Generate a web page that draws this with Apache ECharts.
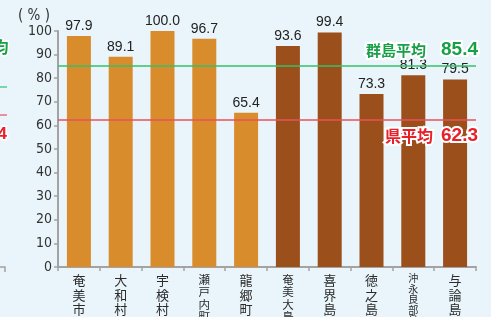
<!DOCTYPE html>
<html>
<head>
<meta charset="utf-8">
<script src="https://cdn.jsdelivr.net/npm/echarts@6/dist/echarts.min.js"></script>
<style>
  html, body { margin: 0; padding: 0; background: #e9f5fb; }
  #chart { width: 491px; height: 317px; }
</style>
</head>
<body>
<div id="chart"></div>
<script>
// 地区名（市町村 + 島ごとの合計）
const categories = ['奄美市', '大和村', '宇検村', '瀬戸内町', '龍郷町', '奄美大島', '喜界島', '徳之島', '沖永良部島', '与論島']
const values = [97.9, 89.1, 100.0, 96.7, 65.4, 93.6, 99.4, 73.3, 81.3, 79.5]
// 'town' = 奄美大島の市町村, 'island' = 島ごと
const kinds = ['town', 'town', 'town', 'town', 'town', 'island', 'island', 'island', 'island', 'island']
const yTicks = { min: 0, max: 100, interval: 10 }
const gunAvg = 85.4
const kenAvg = 62.3

const kindColor = { town: '#d98c2c', island: '#9b4f1b' }
const jp = '"Noto Sans CJK JP", sans-serif'

const chart = echarts.init(document.getElementById('chart'))

const labelRich = {
  a: { fontSize: 13, lineHeight: 14.5, color: '#2b2b2b', fontFamily: jp },
  b: { fontSize: 11.5, lineHeight: 12.5, color: '#2b2b2b', fontFamily: jp },
  c: { fontSize: 10, lineHeight: 10.5, color: '#2b2b2b', fontFamily: jp },
}

chart.setOption({
  backgroundColor: '#e9f5fb',
  animation: false,
  grid: { left: 58, right: 15, top: 31, bottom: 50, containLabel: false, outerBoundsMode: 'none' },
  xAxis: {
    type: 'category',
    data: categories,
    axisLine: { lineStyle: { color: '#a3a3a3', width: 2 } },
    axisTick: { show: true, length: 4, lineStyle: { color: '#a3a3a3', width: 1.5 } },
    axisLabel: {
      interval: 0,
      margin: 6,
      formatter: (v) => {
        const style = v.length <= 3 ? 'a' : v.length === 4 ? 'b' : 'c'
        return v.split('').map((ch) => `{${style}|${ch}}`).join('\n')
      },
      rich: labelRich,
    },
  },
  yAxis: {
    type: 'value',
    min: yTicks.min,
    max: yTicks.max,
    interval: yTicks.interval,
    name: '( % )',
    nameLocation: 'end',
    nameGap: 7,
    nameTextStyle: {
      color: '#333',
      fontSize: 15,
      align: 'right',
      padding: [0, 8, 0, 0],
      fontFamily: '"DejaVu Sans Condensed", sans-serif',
    },
    axisLine: { show: true, lineStyle: { color: '#a3a3a3', width: 2 } },
    axisTick: { show: true, length: 4, lineStyle: { color: '#a3a3a3', width: 1.5 } },
    splitLine: { show: false },
    axisLabel: {
      color: '#333',
      fontSize: 14,
      margin: 6,
      fontFamily: '"DejaVu Sans Condensed", sans-serif',
    },
  },
  series: [
    {
      type: 'bar',
      barWidth: 24,
      data: values.map((v, i) => ({
        value: v,
        itemStyle: { color: kindColor[kinds[i]] },
      })),
      label: {
        show: true,
        position: 'top',
        distance: 3,
        color: '#222',
        fontSize: 14,
        fontFamily: '"Liberation Sans", Arial, sans-serif',
        formatter: (p) => p.value.toFixed(1),
      },
      markLine: {
        silent: true,
        symbol: 'none',
        z: 5,
        data: [
          {
            yAxis: gunAvg,
            lineStyle: { color: '#33c06a', width: 1.5, type: 'solid', opacity: 1 },
            label: {
              position: 'insideEndTop',
              distance: [-2, 6],
              formatter: () => `{t|群島平均}{n|${gunAvg.toFixed(1)}}`,
              rich: {
                t: { fontSize: 15, fontWeight: 'bold', color: '#18a048', fontFamily: jp,
                     textBorderColor: '#fff', textBorderWidth: 4 },
                n: { fontSize: 19, fontWeight: 'bold', color: '#18a048', fontFamily: '"Liberation Sans", sans-serif',
                     textBorderColor: '#fff', textBorderWidth: 4, padding: [0, 0, 0, 15] },
              },
            },
          },
          {
            yAxis: kenAvg,
            lineStyle: { color: '#e8505a', width: 1.5, type: 'solid', opacity: 1 },
            label: {
              position: 'insideEndBottom',
              distance: [-2, 6],
              formatter: () => `{t|県平均}{n|${kenAvg.toFixed(1)}}`,
              rich: {
                t: { fontSize: 16, fontWeight: 'bold', color: '#e8202a', fontFamily: jp,
                     textBorderColor: '#fff', textBorderWidth: 4 },
                n: { fontSize: 19, fontWeight: 'bold', color: '#e8202a', fontFamily: '"Liberation Sans", sans-serif',
                     textBorderColor: '#fff', textBorderWidth: 4, padding: [0, 0, 0, 8] },
              },
            },
          },
        ],
      },
    },
  ],
  graphic: [
    // fragments of the neighbouring chart on the left edge
    { type: 'text', left: -9, top: 37, style: { text: '均', fill: '#18a048', font: 'bold 16px "Noto Sans CJK JP"', stroke: '#fff', lineWidth: 3 } },
    { type: 'line', shape: { x1: 0, y1: 87, x2: 7, y2: 87 }, style: { stroke: '#33c06a', lineWidth: 1.2 } },
    { type: 'line', shape: { x1: 0, y1: 115, x2: 7, y2: 115 }, style: { stroke: '#e8505a', lineWidth: 1.2 } },
    { type: 'text', left: -4, top: 124, style: { text: '4', fill: '#e8202a', font: 'bold 17px "Liberation Sans"', stroke: '#fff', lineWidth: 3 } },
    { type: 'polyline', shape: { points: [[0, 267], [5, 267], [5, 272]] }, style: { stroke: '#a3a3a3', lineWidth: 1.5, fill: null } },
  ],
})
</script>
</body>
</html>
